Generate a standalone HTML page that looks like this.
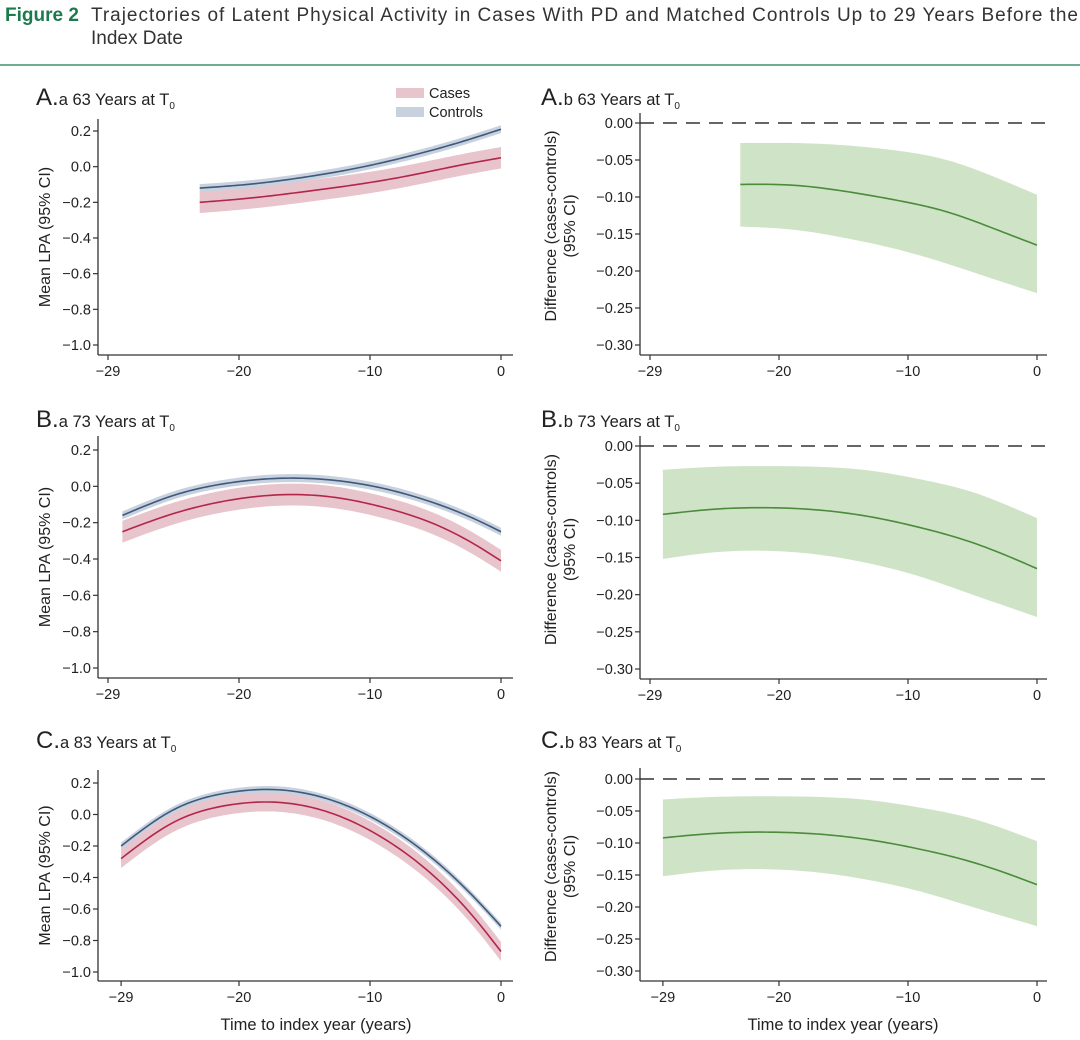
<!DOCTYPE html>
<html><head><meta charset="utf-8">
<style>
html,body{margin:0;padding:0;background:#fff;}
svg{display:block;font-family:"Liberation Sans",sans-serif;}
</style></head>
<body>
<svg id="fig" width="1080" height="1040" viewBox="0 0 1080 1040" xmlns="http://www.w3.org/2000/svg">
<text x="5" y="21" font-size="19" fill="#333"><tspan font-weight="bold" fill="#1b7a4e">Figure 2</tspan></text>
<text x="91" y="21" font-size="19" fill="#333" textLength="987" lengthAdjust="spacing">Trajectories of Latent Physical Activity in Cases With PD and Matched Controls Up to 29 Years Before the</text>
<text x="91" y="44" font-size="19" fill="#333">Index Date</text>
<line x1="0" y1="65" x2="1080" y2="65" stroke="#1b7a4e" stroke-width="1.2"/>
<g id="plots"></g>
</svg>
<script>
// ---- data ----
const aaYears = [-23, -19, -15, -11, -7, -3, 0];
const aaControls = [-0.12, -0.097, -0.059, -0.008, 0.059, 0.14, 0.21];
const aaCases = [-0.20, -0.175, -0.14, -0.10, -0.05, 0.01, 0.05];
const baYears = [-28.9, -25, -21, -17, -13, -9, -5, -2, 0];
const baControls = [-0.16, -0.05, 0.016, 0.044, 0.035, -0.011, -0.094, -0.18, -0.25];
const baCases = [-0.25, -0.15, -0.08, -0.047, -0.058, -0.115, -0.21, -0.32, -0.41];
const caYears = [-29, -25, -21, -17, -13, -9, -5, -2, 0];
const caControls = [-0.20, 0.03, 0.136, 0.157, 0.093, -0.058, -0.295, -0.53, -0.71];
const caCases = [-0.28, -0.05, 0.057, 0.077, 0.01, -0.15, -0.40, -0.66, -0.87];
const controlsCI = 0.022;
const casesCI = 0.06;
const abYears = [-23, -19, -15, -11, -7, -3, 0];
const abDiff = [-0.083, -0.084, -0.092, -0.104, -0.120, -0.145, -0.165];
const abLower = [-0.140, -0.144, -0.155, -0.170, -0.190, -0.213, -0.230];
const abUpper = [-0.027, -0.027, -0.030, -0.037, -0.050, -0.075, -0.097];
const bcYears = [-29, -25, -21, -17, -13, -9, -5, -2, 0];
const bcDiff = [-0.092, -0.085, -0.083, -0.086, -0.095, -0.110, -0.130, -0.150, -0.165];
const bcLower = [-0.152, -0.143, -0.141, -0.146, -0.158, -0.176, -0.200, -0.218, -0.230];
const bcUpper = [-0.032, -0.028, -0.027, -0.028, -0.033, -0.045, -0.062, -0.082, -0.097];
const leftYTicks = [0.2, 0.0, -0.2, -0.4, -0.6, -0.8, -1.0];
const leftYLabels = ["0.2", "0.0", "\u22120.2", "\u22120.4", "\u22120.6", "\u22120.8", "\u22121.0"];
const rightYTicks = [0, -0.05, -0.10, -0.15, -0.20, -0.25, -0.30];
const rightYLabels = ["0.00", "\u22120.05", "\u22120.10", "\u22120.15", "\u22120.20", "\u22120.25", "\u22120.30"];
const xTicksAB = [-30, -20, -10, 0];
const xTicksC = [-29, -20, -10, 0];
const xTickLabels = ["\u221229", "\u221220", "\u221210", "0"];

const NS = "http://www.w3.org/2000/svg";
const root = document.getElementById('plots');
function mk(tag, attrs, parent) {
  const e = document.createElementNS(NS, tag);
  for (const k in attrs) e.setAttribute(k, attrs[k]);
  (parent || root).appendChild(e);
  return e;
}
function spline(xs, ys) {
  const n = xs.length, h = [], al = [], l = [1], mu = [0], z = [0], c = new Array(n).fill(0), b = [], d = [];
  for (let i = 0; i < n - 1; i++) h.push(xs[i + 1] - xs[i]);
  for (let i = 1; i < n - 1; i++) al[i] = 3 / h[i] * (ys[i + 1] - ys[i]) - 3 / h[i - 1] * (ys[i] - ys[i - 1]);
  for (let i = 1; i < n - 1; i++) {
    l[i] = 2 * (xs[i + 1] - xs[i - 1]) - h[i - 1] * mu[i - 1];
    mu[i] = h[i] / l[i];
    z[i] = (al[i] - h[i - 1] * z[i - 1]) / l[i];
  }
  z[n - 1] = 0;
  for (let j = n - 2; j >= 0; j--) {
    c[j] = (j === 0 ? 0 : z[j]) - (j === 0 ? 0 : mu[j]) * c[j + 1];
    b[j] = (ys[j + 1] - ys[j]) / h[j] - h[j] * (c[j + 1] + 2 * c[j]) / 3;
    d[j] = (c[j + 1] - c[j]) / (3 * h[j]);
  }
  const out = [];
  const steps = 80;
  for (let s = 0; s <= steps; s++) {
    const x = xs[0] + (xs[n - 1] - xs[0]) * s / steps;
    let j = 0;
    while (j < n - 2 && x > xs[j + 1]) j++;
    const dx = x - xs[j];
    out.push([x, ys[j] + b[j] * dx + c[j] * dx * dx + d[j] * dx * dx * dx]);
  }
  return out;
}
function pathOf(pts, X, Y, start) {
  return pts.map((p, i) => (i === 0 ? start : "L") + X(p[0]).toFixed(2) + "," + Y(p[1]).toFixed(2)).join("");
}
function band(g, xs, lo, hi, X, Y, fill, name) {
  const up = spline(xs, hi);
  const dn = spline(xs, lo).reverse();
  const p = mk('path', { d: pathOf(up, X, Y, "M") + pathOf(dn, X, Y, "L") + "Z", fill: fill, stroke: "none" }, g);
  
  
}
function line(g, xs, ys, X, Y, col, name) {
  const p = mk('path', { d: pathOf(spline(xs, ys), X, Y, "M"), fill: "none", stroke: col, "stroke-width": 1.6 }, g);
  
  
}
function axes(g, o) {
  const ax = mk('line', { x1: o.ax, y1: o.top, x2: o.ax, y2: o.bottom, stroke: "#333", "stroke-width": 1.3 }, g);
  
  
  const bx = mk('line', { x1: o.ax, y1: o.bottom, x2: o.right, y2: o.bottom, stroke: "#333", "stroke-width": 1.3 }, g);
  
  
  o.yTicks.forEach((v, i) => {
    const y = o.Y(v);
    mk('line', { x1: o.ax - 5, y1: y, x2: o.ax, y2: y, stroke: "#333", "stroke-width": 1.2 }, g);
    const t = mk('text', { x: o.ax - 7, y: y + 5, "font-size": 14.5, fill: "#222", "text-anchor": "end" }, g);
    
    
    t.textContent = o.yLabels[i];
  });
  o.xTicks.forEach((v, i) => {
    const x = o.X(v);
    mk('line', { x1: x, y1: o.bottom, x2: x, y2: o.bottom + 5, stroke: "#333", "stroke-width": 1.2 }, g);
    const t = mk('text', { x: x, y: o.bottom + 21, "font-size": 14.5, fill: "#222", "text-anchor": "middle" }, g);
    
    
    t.textContent = xTickLabels[i];
  });
}
function title(g, x, y, big, rest, name) {
  const t = mk('text', { x: x, y: y, fill: "#222" }, g);
  
  
  const a = mk('tspan', { "font-size": 24 }, t); a.textContent = big;
  const b = mk('tspan', { "font-size": 16.5 }, t); b.textContent = rest;
  const c = mk('tspan', { "font-size": 10, dy: 4 }, t); c.textContent = "0";
}
function yTitle(g, x, cy, lines, name) {
  lines.forEach((s, i) => {
    const t = mk('text', { x: 0, y: 0, "font-size": 16, fill: "#222", "text-anchor": "middle",
      transform: "translate(" + (x + i * 19) + "," + cy + ") rotate(-90)" }, g);
    
    
    t.textContent = s;
  });
}
function leftPanel(cfg) {
  const g = mk('g', {});
  
  
  const X = v => 501 + 13.1 * v;
  const Y = v => cfg.y02 + (0.2 - v) / 1.2 * (cfg.yM1 - cfg.y02);
  band(g, cfg.years, cfg.cases.map(v => v - casesCI), cfg.cases.map(v => v + casesCI), X, Y, "#e8c4cd", "cases-ci-band");
  band(g, cfg.years, cfg.controls.map(v => v - controlsCI), cfg.controls.map(v => v + controlsCI), X, Y, "#c8d2de", "controls-ci-band");
  line(g, cfg.years, cfg.cases, X, Y, "#b3264a", "cases-line");
  line(g, cfg.years, cfg.controls, X, Y, "#3f587c", "controls-line");
  axes(g, { ax: 98, top: cfg.top, bottom: cfg.bottom, right: 513, X: X, Y: Y, yTicks: leftYTicks, yLabels: leftYLabels, xTicks: cfg.xTicks });
  title(g, 36, cfg.titleY, cfg.big, cfg.rest, "panel-title");
  yTitle(g, 50, (cfg.top + cfg.bottom) / 2, ["Mean LPA (95% CI)"], "y-axis-title");
}
function rightPanel(cfg) {
  const g = mk('g', {});
  
  
  const X = v => 1037 + 12.9 * v;
  const Y = v => cfg.y0 + (-v) / 0.3 * (cfg.y30 - cfg.y0);
  band(g, cfg.years, cfg.lower, cfg.upper, X, Y, "#cfe3c6", "difference-ci-band");
  line(g, cfg.years, cfg.diff, X, Y, "#4b8b3b", "difference-line");
  const z = mk('line', { x1: 640, y1: Y(0), x2: 1047, y2: Y(0), stroke: "#333", "stroke-width": 1.5, "stroke-dasharray": "14,9" }, g);
  
  
  axes(g, { ax: 640, top: cfg.top, bottom: cfg.bottom, right: 1047, X: X, Y: Y, yTicks: rightYTicks, yLabels: rightYLabels, xTicks: cfg.xTicks });
  title(g, 541, cfg.titleY, cfg.big, cfg.rest, "panel-title");
  yTitle(g, 556, (cfg.top + cfg.bottom) / 2 - 8, ["Difference (cases-controls)", "(95% CI)"], "y-axis-title");
}
leftPanel({ name: "panel-a-a", years: aaYears, controls: aaControls, cases: aaCases, y02: 131, yM1: 345, top: 119, bottom: 355, xTicks: xTicksAB, titleY: 105, big: "A.", rest: "a 63 Years at T" });
leftPanel({ name: "panel-b-a", years: baYears, controls: baControls, cases: baCases, y02: 450, yM1: 668, top: 436, bottom: 678, xTicks: xTicksAB, titleY: 427, big: "B.", rest: "a 73 Years at T" });
leftPanel({ name: "panel-c-a", years: caYears, controls: caControls, cases: caCases, y02: 783, yM1: 972, top: 770, bottom: 981, xTicks: xTicksC, titleY: 748, big: "C.", rest: "a 83 Years at T" });
rightPanel({ name: "panel-a-b", years: abYears, diff: abDiff, lower: abLower, upper: abUpper, y0: 123, y30: 345, top: 113, bottom: 355, xTicks: xTicksAB, titleY: 105, big: "A.", rest: "b 63 Years at T" });
rightPanel({ name: "panel-b-b", years: bcYears, diff: bcDiff, lower: bcLower, upper: bcUpper, y0: 446, y30: 669, top: 436, bottom: 679, xTicks: xTicksAB, titleY: 427, big: "B.", rest: "b 73 Years at T" });
rightPanel({ name: "panel-c-b", years: bcYears, diff: bcDiff, lower: bcLower, upper: bcUpper, y0: 779, y30: 971, top: 768, bottom: 981, xTicks: xTicksC, titleY: 748, big: "C.", rest: "b 83 Years at T" });

[[316, "x-axis-title-left"], [843, "x-axis-title-right"]].forEach(a => {
  const t = mk('text', { x: a[0], y: 1030, "font-size": 16.5, fill: "#222", "text-anchor": "middle" });
  
  
  t.textContent = "Time to index year (years)";
});
const lg = mk('g', {});


const s1 = mk('rect', { x: 396, y: 88, width: 28, height: 10, fill: "#e8c4cd" }, lg);


const s2 = mk('rect', { x: 396, y: 107, width: 28, height: 10, fill: "#c8d2de" }, lg);


const l1 = mk('text', { x: 429, y: 98, "font-size": 14.5, fill: "#222" }, lg);


l1.textContent = "Cases";
const l2 = mk('text', { x: 429, y: 117, "font-size": 14.5, fill: "#222" }, lg);


l2.textContent = "Controls";
</script>
</body></html>
